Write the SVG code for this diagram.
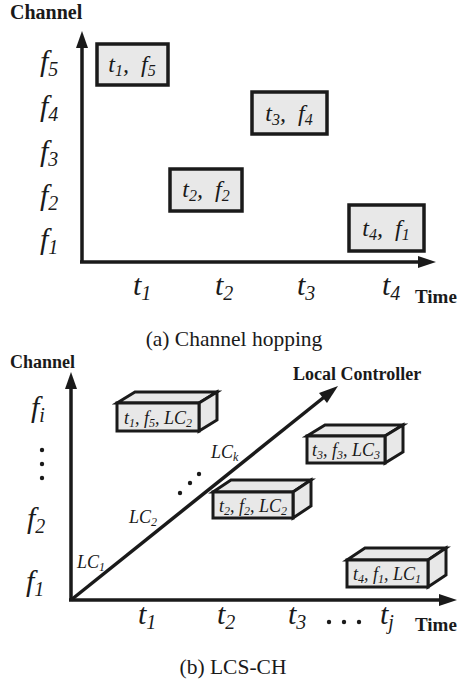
<svg xmlns="http://www.w3.org/2000/svg" width="457" height="685" viewBox="0 0 457 685">
<style>
.ax{stroke:#1a1a1a;stroke-width:3.5;fill:none}
.ah{fill:#1a1a1a}
.bx{fill:#e8e8e8;stroke:#1a1a1a;stroke-width:3.5}
.bx3{fill:#e8e8e8;stroke:#1a1a1a;stroke-width:3;stroke-linejoin:miter}
.it{font-family:"Liberation Serif","Times New Roman",serif;font-style:italic;fill:#1a1a1a}
.big{font-size:30px}
.mid{font-size:24px}
.sm{font-size:18px}
.bd{font-family:"Liberation Serif","Times New Roman",serif;font-weight:bold;fill:#1a1a1a}
.cap{font-family:"Liberation Serif","Times New Roman",serif;font-size:21.5px;fill:#1a1a1a}
.dot{fill:#1a1a1a}
</style>

<!-- ===== (a) Channel hopping ===== -->
<g id="axes-a">
  <text class="bd" x="10" y="19" font-size="20">Channel</text>
  <line class="ax" x1="82" y1="262" x2="82" y2="44"/>
  <polygon class="ah" points="82,31 76,48 88,48"/>
  <line class="ax" x1="80" y1="262" x2="422" y2="262"/>
  <polygon class="ah" points="436,262 418,256 418,268"/>
  <text class="bd" x="415" y="303" font-size="19">Time</text>
  <g class="it big">
    <text x="40" y="71">f<tspan font-size="20" dy="5">5</tspan></text>
    <text x="40" y="116">f<tspan font-size="20" dy="5">4</tspan></text>
    <text x="40" y="161">f<tspan font-size="20" dy="5">3</tspan></text>
    <text x="40" y="205">f<tspan font-size="20" dy="5">2</tspan></text>
    <text x="40" y="249">f<tspan font-size="20" dy="5">1</tspan></text>
    <text x="133" y="295">t<tspan font-size="20" dy="5">1</tspan></text>
    <text x="215" y="295">t<tspan font-size="20" dy="5">2</tspan></text>
    <text x="297" y="295">t<tspan font-size="20" dy="5">3</tspan></text>
    <text x="382" y="295">t<tspan font-size="20" dy="5">4</tspan></text>
  </g>
</g>

<g id="node-a1">
  <rect class="bx" x="97" y="44" width="71" height="41"/>
  <text class="it mid" x="132" y="72" text-anchor="middle">t<tspan font-size="16" dy="4">1</tspan><tspan dy="-4">,&#160; f</tspan><tspan font-size="16" dy="4">5</tspan></text>
</g>
<g id="node-a2">
  <rect class="bx" x="170" y="169" width="72" height="42"/>
  <text class="it mid" x="206" y="197" text-anchor="middle">t<tspan font-size="16" dy="4">2</tspan><tspan dy="-4">,&#160; f</tspan><tspan font-size="16" dy="4">2</tspan></text>
</g>
<g id="node-a3">
  <rect class="bx" x="252" y="92" width="75" height="42"/>
  <text class="it mid" x="289" y="121" text-anchor="middle">t<tspan font-size="16" dy="4">3</tspan><tspan dy="-4">,&#160; f</tspan><tspan font-size="16" dy="4">4</tspan></text>
</g>
<g id="node-a4">
  <rect class="bx" x="349" y="205" width="75" height="46"/>
  <text class="it mid" x="386" y="236" text-anchor="middle">t<tspan font-size="16" dy="4">4</tspan><tspan dy="-4">,&#160; f</tspan><tspan font-size="16" dy="4">1</tspan></text>
</g>

<text class="cap" x="234" y="346" text-anchor="middle">(a) Channel hopping</text>

<!-- ===== (b) LCS-CH ===== -->
<g id="axes-b">
  <text class="bd" x="10" y="368" font-size="18">Channel</text>
  <line class="ax" x1="71" y1="600" x2="71" y2="385"/>
  <polygon class="ah" points="71,372 65,389 77,389"/>
  <line class="ax" x1="69" y1="600" x2="442" y2="600"/>
  <polygon class="ah" points="457,600 439,594 439,606"/>
  <text class="bd" x="415" y="631" font-size="19">Time</text>
  <g class="it big">
    <text x="31" y="417">f<tspan font-size="20" dy="5">i</tspan></text>
    <text x="27" y="528">f<tspan font-size="20" dy="5">2</tspan></text>
    <text x="26" y="591">f<tspan font-size="20" dy="5">1</tspan></text>
    <text x="138" y="624">t<tspan font-size="20" dy="5">1</tspan></text>
    <text x="217" y="624">t<tspan font-size="20" dy="5">2</tspan></text>
    <text x="288" y="624">t<tspan font-size="20" dy="5">3</tspan></text>
    <text x="380" y="624">t<tspan font-size="20" dy="5">j</tspan></text>
  </g>
  <circle class="dot" cx="42" cy="450" r="2.2"/>
  <circle class="dot" cx="42" cy="464" r="2.2"/>
  <circle class="dot" cx="42" cy="478" r="2.2"/>
  <circle class="dot" cx="329" cy="622" r="2.2"/>
  <circle class="dot" cx="344" cy="622" r="2.2"/>
  <circle class="dot" cx="359" cy="622" r="2.2"/>
</g>

<g id="connectors">
  <line class="ax" x1="71" y1="600" x2="328" y2="394"/>
  <polygon class="ah" points="338,386 319,393 327,403"/>
  <text class="bd" x="293" y="380" font-size="18">Local Controller</text>
  <g class="it sm">
    <text x="77" y="568">LC<tspan font-size="12" dy="3">1</tspan></text>
    <text x="129" y="523">LC<tspan font-size="12" dy="3">2</tspan></text>
    <text x="211" y="458">LC<tspan font-size="12" dy="3">k</tspan></text>
  </g>
  <circle class="dot" cx="180" cy="493" r="2.2"/>
  <circle class="dot" cx="190" cy="483" r="2.2"/>
  <circle class="dot" cx="199" cy="474" r="2.2"/>
</g>

<g id="node-b1">
  <polygon class="bx3" points="117,403 135,392 217,392 199,403"/>
  <polygon class="bx3" points="199,403 217,392 217,420 199,431"/>
  <rect class="bx3" x="117" y="403" width="82" height="28"/>
  <text class="it sm" x="158" y="424" text-anchor="middle">t<tspan font-size="12" dy="3">1</tspan><tspan dy="-3">, f</tspan><tspan font-size="12" dy="3">5</tspan><tspan dy="-3">, LC</tspan><tspan font-size="12" dy="3">2</tspan></text>
</g>
<g id="node-b2">
  <polygon class="bx3" points="213,492 231,480 311,480 293,492"/>
  <polygon class="bx3" points="293,492 311,480 311,506 293,518"/>
  <rect class="bx3" x="213" y="492" width="80" height="26"/>
  <text class="it sm" x="253" y="512" text-anchor="middle">t<tspan font-size="12" dy="3">2</tspan><tspan dy="-3">, f</tspan><tspan font-size="12" dy="3">2</tspan><tspan dy="-3">, LC</tspan><tspan font-size="12" dy="3">2</tspan></text>
</g>
<g id="node-b3">
  <polygon class="bx3" points="307,436 325,425 403,425 385,436"/>
  <polygon class="bx3" points="385,436 403,425 403,452 385,463"/>
  <rect class="bx3" x="307" y="436" width="78" height="27"/>
  <text class="it sm" x="346" y="456" text-anchor="middle">t<tspan font-size="12" dy="3">3</tspan><tspan dy="-3">, f</tspan><tspan font-size="12" dy="3">3</tspan><tspan dy="-3">, LC</tspan><tspan font-size="12" dy="3">3</tspan></text>
</g>
<g id="node-b4">
  <polygon class="bx3" points="347,560 365,548 446,548 428,560"/>
  <polygon class="bx3" points="428,560 446,548 446,575 428,587"/>
  <rect class="bx3" x="347" y="560" width="81" height="27"/>
  <text class="it sm" x="387" y="580" text-anchor="middle">t<tspan font-size="12" dy="3">4</tspan><tspan dy="-3">, f</tspan><tspan font-size="12" dy="3">1</tspan><tspan dy="-3">, LC</tspan><tspan font-size="12" dy="3">1</tspan></text>
</g>

<text class="cap" x="233" y="674" text-anchor="middle">(b) LCS-CH</text>
</svg>
